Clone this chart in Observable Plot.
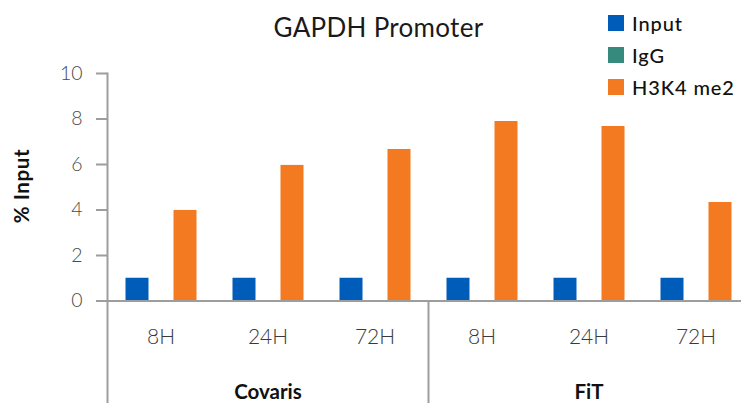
<!DOCTYPE html>
<html>
<head>
<meta charset="utf-8">
<script src="https://cdn.jsdelivr.net/npm/d3@7"></script>
<script src="https://cdn.jsdelivr.net/npm/@observablehq/plot@0.6"></script>
<style>
  html, body { margin: 0; padding: 0; background: #fff; overflow: hidden; }
  #wrap { position: relative; width: 741px; height: 403px; overflow: hidden; font-family: Lato, "Open Sans", sans-serif; }
  #wrap svg { position: absolute; left: 0; top: 0; max-width: none !important; width: 750px !important; height: 403px !important; }
  .title { position: absolute; left: 378.5px; top: 14px; transform: translateX(-50%); font-size: 26px; letter-spacing: 0.3px; line-height: 1; color: #1a1a1a; white-space: nowrap; }
  .ylab { position: absolute; left: 20.5px; top: 185.5px; transform: translate(-50%, -50%) rotate(-90deg); font-size: 20.5px; letter-spacing: 0.6px; font-weight: 700; line-height: 1; color: #111; white-space: nowrap; }
  .legend { position: absolute; left: 608px; top: 15px; }
  .item { position: absolute; left: 0; white-space: nowrap; }
  .sw { position: absolute; left: 0; top: 0; width: 16px; height: 16px; }
  .lt { position: absolute; left: 24px; top: -2px; font-size: 20px; letter-spacing: 0.9px; font-weight: 500; line-height: 1; color: #111; }
</style>
</head>
<body>
<div id="wrap"></div>
<script>
// ---- data ----
const title = "GAPDH Promoter";
const yLabel = "% Input";
const methods = ["Covaris", "FiT"];
const times = ["8H", "24H", "72H"];
const series = ["Input", "IgG", "H3K4 me2"];
const colors = ["#005cb9", "#35897d", "#f47a21"];
const inputValues = [1, 1, 1, 1, 1, 1];
const iggValues = [0, 0, 0, 0, 0, 0];
const h3k4Values = [3.98, 5.96, 6.66, 7.89, 7.67, 4.33];
const yTicks = [0, 2, 4, 6, 8, 10];

// ---- build table ----
const keys = [];
methods.forEach(m => times.forEach(t => keys.push(m + "|" + t)));
const seriesValues = [inputValues, iggValues, h3k4Values];
const rows = [];
keys.forEach((k, i) => series.forEach((s, j) => rows.push({key: k, series: s, value: seriesValues[j][i]})));

const W = 750, H = 403, mTop = 73, mBottom = 102.5, mLeft = 106.5;
const gray = "#9d9d9d";
const methodStarts = methods.map(m => m + "|" + times[0]);
const methodMids = methods.map(m => m + "|" + times[1]);

const frames = methodStarts.map((k, i) => Plot.frame({
  anchor: "left",
  fx: () => k,
  insetTop: i === 0 ? 0 : H - mTop - mBottom,
  insetBottom: -mBottom,
  stroke: gray,
  strokeWidth: 2
}));

const plot = Plot.plot({
  width: W,
  height: H,
  marginLeft: mLeft,
  marginRight: 0,
  marginTop: mTop,
  marginBottom: mBottom,
  style: {fontFamily: "Lato, 'Open Sans', sans-serif", background: "transparent", overflow: "visible", maxWidth: "none"},
  fx: {domain: keys, padding: 0, axis: null, label: null},
  x: {domain: series, paddingInner: 0.0612, paddingOuter: 0.7177, axis: null, label: null},
  y: {domain: [0, 10], axis: null, label: null},
  color: {domain: series, range: colors},
  marks: [
    Plot.barY(rows, {fx: "key", x: "series", y: "value", fill: "series"}),
    Plot.ruleY([0], {stroke: gray, strokeWidth: 2}),
    ...frames,
    Plot.axisY({ticks: yTicks, tickSize: 11, tickPadding: 14, fontSize: 19.5, fontWeight: 300, stroke: gray, strokeWidth: 2, fill: "#4a4a4a", label: null}),
    Plot.axisFx({anchor: "bottom", tickSize: 0, tickPadding: 28, tickFormat: k => k.split("|")[1], fontSize: 21, fontWeight: 300, fill: "#3a3a3a", label: null}),
    Plot.axisFx({anchor: "bottom", tickSize: 0, tickPadding: 83, tickFormat: k => methodMids.includes(k) ? k.split("|")[0] : "", fontSize: 20.5, fontWeight: 700, fill: "#111", label: null})
  ]
});

const wrap = document.getElementById("wrap");
wrap.appendChild(plot);

const t = document.createElement("div");
t.className = "title"; t.textContent = title; wrap.appendChild(t);
const yl = document.createElement("div");
yl.className = "ylab"; yl.textContent = yLabel; wrap.appendChild(yl);
const lg = document.createElement("div");
lg.className = "legend";
series.forEach((s, i) => {
  const it = document.createElement("div");
  it.className = "item";
  it.style.top = (i * 32) + "px";
  const sw = document.createElement("div");
  sw.className = "sw"; sw.style.background = colors[i];
  const lt = document.createElement("div");
  lt.className = "lt"; lt.textContent = s;
  it.appendChild(sw); it.appendChild(lt);
  lg.appendChild(it);
});
wrap.appendChild(lg);
</script>
</body>
</html>
